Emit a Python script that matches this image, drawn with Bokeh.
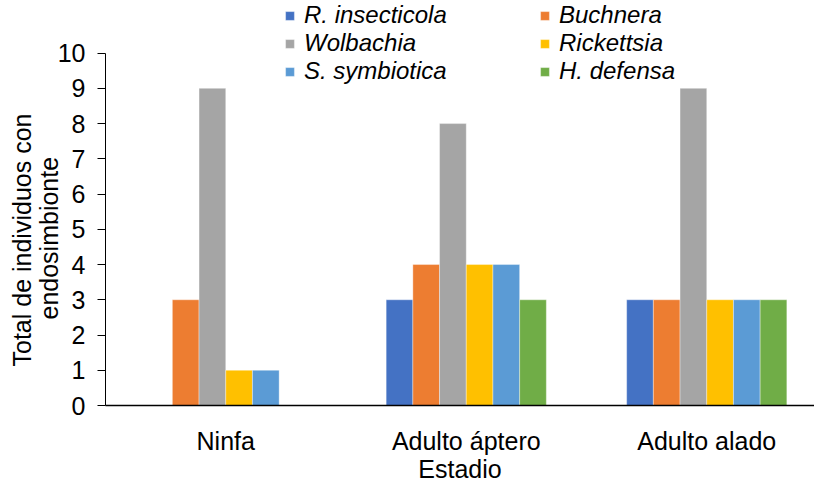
from bokeh.plotting import figure
from bokeh.models import Legend, LegendItem, FixedTicker, ColumnDataSource, Range1d, Title
from bokeh.embed import file_html
from bokeh.resources import INLINE

# ---- data ----
stages = ["Ninfa", "Adulto áptero", "Adulto alado"]
series = ["R. insecticola", "Buchnera", "Wolbachia", "Rickettsia", "S. symbiotica", "H. defensa"]
r_insecticola = [0, 3, 3]
buchnera = [3, 4, 3]
wolbachia = [9, 8, 9]
rickettsia = [1, 4, 3]
s_symbiotica = [1, 4, 3]
h_defensa = [0, 3, 3]
y_ticks = [0, 1, 2, 3, 4, 5, 6, 7, 8, 9, 10]
colors = ["#4472C4", "#ED7D31", "#A5A5A5", "#FFC000", "#5B9BD5", "#70AD47"]
y_title_lines = ["Total de individuos con", "endosimbionte"]
x_title = "Estadio"

values = [r_insecticola, buchnera, wolbachia, rickettsia, s_symbiotica, h_defensa]
centers = [i + 0.5 for i in range(len(stages))]

FONT = "Liberation Sans"
FS = "25px"

p = figure(width=814, height=485, output_backend="svg", toolbar_location=None,
           x_range=Range1d(0, 709 / 240.5), y_range=Range1d(0, 408 / 35.5),
           min_border_left=105, min_border_right=0, min_border_top=0, min_border_bottom=77)
p.outline_line_color = None
p.xgrid.visible = False
p.ygrid.visible = False
p.background_fill_color = "white"
p.border_fill_color = "white"

bw = 0.111
renderers = []
for i, (name, vals, col) in enumerate(zip(series, values, colors)):
    src = ColumnDataSource(dict(x=[c + (i - 2.5) * bw for c in centers], top=vals))
    r = p.vbar(x="x", top="top", bottom=0, width=bw, source=src,
               fill_color=col, line_color="white", line_width=0.6, line_alpha=0.6)
    renderers.append(r)

# x axis
xa = p.xaxis[0]
xa.ticker = FixedTicker(ticks=centers)
ov = {}
for c, s in zip(centers, stages):
    ov[c] = s
    ov[str(c)] = s
xa.major_label_overrides = ov
xa.major_tick_line_color = None
xa.minor_tick_line_color = None
xa.major_tick_out = 0
xa.major_label_standoff = 21
xa.major_label_text_font = FONT
xa.major_label_text_font_size = FS
xa.major_label_text_color = "black"
xa.axis_line_color = "black"
xa.axis_line_width = 1.5
xa.axis_label = x_title
xa.axis_label_text_font = FONT
xa.axis_label_text_font_size = FS
xa.axis_label_text_font_style = "normal"
xa.axis_label_text_color = "black"
xa.axis_label_standoff = -3

# y axis
ya = p.yaxis[0]
ya.ticker = FixedTicker(ticks=y_ticks)
ya.bounds = (0, 10)
ya.minor_tick_line_color = None
ya.major_tick_out = 8
ya.major_tick_in = 0
ya.major_tick_line_color = "black"
ya.axis_line_color = "black"
ya.major_label_standoff = 12
ya.major_label_text_font = FONT
ya.major_label_text_font_size = FS
ya.major_label_text_color = "black"

# y title, two centred lines (closest-to-axis line added first)
for line, so, off in zip(reversed(y_title_lines), [-17, 11], [86, 39]):
    t = Title(text=line, align="left", offset=off, standoff=so,
              text_font=FONT, text_font_size=FS, text_font_style="normal",
              text_color="black")
    p.add_layout(t, "left")

# legends (two columns)
def make_legend(idx, loc):
    leg = Legend(items=[LegendItem(label=series[k], renderers=[renderers[k]]) for k in idx],
                 location=loc, orientation="vertical",
                 label_text_font=FONT, label_text_font_size="24px",
                 label_text_font_style="italic", label_text_color="black",
                 glyph_width=11, glyph_height=11, label_standoff=9,
                 spacing=-3, padding=0, margin=0,
                 border_line_color=None, background_fill_alpha=0)
    p.add_layout(leg)

make_legend([0, 2, 4], (179, 320))
make_legend([1, 3, 5], (434, 320))

open("out.html", "w").write(file_html(p, INLINE))
